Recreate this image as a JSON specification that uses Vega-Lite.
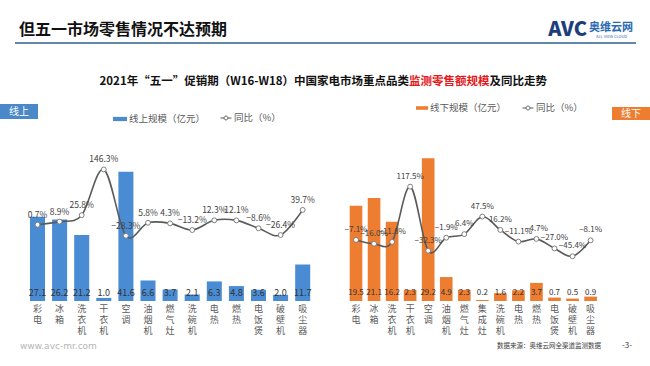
{
  "$schema": "https://vega.github.io/schema/vega-lite/v6.json",
  "width": 650,
  "height": 366,
  "autosize": {"type": "none"},
  "padding": 0,
  "background": "white",
  "config": {"view": {"stroke": null}, "font": "Noto Sans CJK SC", "text": {"font": "Noto Sans CJK SC"}},
  "datasets": {
    "online": [
      {"cat": "彩电", "value": 27.1, "yoy": 0.007},
      {"cat": "冰箱", "value": 26.2, "yoy": 0.089},
      {"cat": "洗衣机", "value": 21.2, "yoy": 0.258},
      {"cat": "干衣机", "value": 1.0, "yoy": 1.463},
      {"cat": "空调", "value": 41.6, "yoy": -0.283},
      {"cat": "油烟机", "value": 6.6, "yoy": 0.058},
      {"cat": "燃气灶", "value": 3.7, "yoy": 0.043},
      {"cat": "洗碗机", "value": 2.1, "yoy": -0.132},
      {"cat": "电热", "value": 6.3, "yoy": 0.123},
      {"cat": "燃热", "value": 4.8, "yoy": 0.121},
      {"cat": "电饭煲", "value": 3.6, "yoy": -0.086},
      {"cat": "破壁机", "value": 2.0, "yoy": -0.264},
      {"cat": "吸尘器", "value": 11.7, "yoy": 0.397}
    ],
    "offline": [
      {"cat": "彩电", "value": 19.5, "yoy": -0.071},
      {"cat": "冰箱", "value": 21.1, "yoy": -0.160},
      {"cat": "洗衣机", "value": 16.2, "yoy": -0.118},
      {"cat": "干衣机", "value": 2.3, "yoy": 1.175},
      {"cat": "空调", "value": 29.2, "yoy": -0.323},
      {"cat": "油烟机", "value": 4.9, "yoy": -0.019},
      {"cat": "燃气灶", "value": 2.3, "yoy": 0.064},
      {"cat": "集成灶", "value": 0.2, "yoy": 0.475},
      {"cat": "洗碗机", "value": 1.6, "yoy": 0.162},
      {"cat": "电热", "value": 2.2, "yoy": -0.111},
      {"cat": "燃热", "value": 3.7, "yoy": -0.047},
      {"cat": "电饭煲", "value": 0.7, "yoy": -0.270},
      {"cat": "破壁机", "value": 0.5, "yoy": -0.454},
      {"cat": "吸尘器", "value": 0.9, "yoy": -0.081}
    ]
  },
  "layer": [
    {
      "data": {"name": "online"},
      "layer": [
        {
          "layer": [
            {
              "mark": {"type": "bar", "color": "#4a8cd4"},
              "encoding": {
                "x": {"field": "cat", "type": "nominal", "sort": null,
                      "scale": {"range": [26.45, 313.75], "paddingInner": 0.32, "paddingOuter": 0.16},
                      "axis": {"orient": "bottom", "offset": -65, "title": null, "domain": false, "ticks": false, "labelAngle": 0,
                               "labelExpr": "split(datum.label, '')", "labelFontSize": 9, "labelColor": "#595959",
                               "labelLineHeight": 11, "labelPadding": 3, "labelBaseline": "top", "labelFont": "Noto Sans CJK SC"}},
                "y": {"field": "value", "type": "quantitative", "scale": {"domain": [0, 51.2], "range": [301, 130]}, "axis": null},
                "color": {"datum": "线上规模（亿元）", "type": "nominal", "scale": {"range": ["#4a8cd4"]},
                          "legend": {"orient": "none", "legendX": 113, "legendY": 112, "title": null, "padding": 0,
                                     "symbolType": "M-1,-0.3H1V0.3H-1Z", "symbolSize": 196, "symbolStrokeWidth": 0,
                                     "labelFontSize": 9.5, "labelColor": "#595959", "labelOffset": 2, "labelFont": "Noto Sans CJK SC"}}
              }
            },
            {
              "mark": {"type": "text", "dy": -8, "fontSize": 9, "color": "#333333"},
              "encoding": {
                "x": {"field": "cat", "type": "nominal", "sort": null},
                "y": {"datum": 0, "type": "quantitative"},
                "text": {"field": "value", "type": "quantitative", "format": ".1f"}
              }
            }
          ]
        },
        {
          "layer": [
            {
              "mark": {"type": "line", "interpolate": "cardinal", "strokeWidth": 1.6},
              "encoding": {
                "x": {"field": "cat", "type": "nominal", "sort": null},
                "y": {"field": "yoy", "type": "quantitative", "scale": {"domain": [-1.95, 2.02], "range": [301, 130]}, "axis": null},
                "stroke": {"datum": "同比（%）", "type": "nominal", "scale": {"range": ["#5a5a5a"]},
                           "legend": {"orient": "none", "legendX": 220, "legendY": 112, "title": null, "padding": 0,
                                      "symbolType": "M-1,0H-0.35M0.35,0H1M0.35,0A0.35,0.35,0,1,1,-0.35,0A0.35,0.35,0,1,1,0.35,0",
                                      "symbolSize": 121, "symbolStrokeColor": "#5a5a5a", "symbolFillColor": "white", "symbolStrokeWidth": 1,
                                      "labelFontSize": 9.5, "labelColor": "#595959", "labelOffset": 2, "labelFont": "Noto Sans CJK SC"}}
              }
            },
            {
              "mark": {"type": "point", "shape": "circle", "filled": true, "fill": "white", "stroke": "#808080", "strokeWidth": 1, "size": 24, "opacity": 1},
              "encoding": {
                "x": {"field": "cat", "type": "nominal", "sort": null},
                "y": {"field": "yoy", "type": "quantitative"}
              }
            },
            {
              "mark": {"type": "text", "dy": -10, "fontSize": 8.5, "color": "#404040"},
              "encoding": {
                "x": {"field": "cat", "type": "nominal", "sort": null},
                "y": {"field": "yoy", "type": "quantitative"},
                "text": {"field": "yoy", "type": "quantitative", "format": ".1%"}
              }
            }
          ]
        }
      ],
      "resolve": {"scale": {"y": "independent"}}
    },
    {
      "data": {"name": "offline"},
      "layer": [
        {
          "layer": [
            {
              "mark": {"type": "bar", "color": "#ed7d31"},
              "encoding": {
                "x": {"field": "cat", "type": "nominal", "sort": null,
                      "scale": {"range": [347.0, 599.6], "paddingInner": 0.3, "paddingOuter": 0.15},
                      "axis": {"orient": "bottom", "offset": -65, "title": null, "domain": false, "ticks": false, "labelAngle": 0,
                               "labelExpr": "split(datum.label, '')", "labelFontSize": 9, "labelColor": "#595959",
                               "labelLineHeight": 11, "labelPadding": 3, "labelBaseline": "top", "labelFont": "Noto Sans CJK SC"}},
                "y": {"field": "value", "type": "quantitative", "scale": {"domain": [0, 30.6], "range": [301, 130]}, "axis": null},
                "color": {"datum": "线下规模（亿元）", "type": "nominal", "scale": {"range": ["#ed7d31"]},
                          "legend": {"orient": "none", "legendX": 416, "legendY": 102, "title": null, "padding": 0,
                                     "symbolType": "M-1,-0.3H1V0.3H-1Z", "symbolSize": 144, "symbolStrokeWidth": 0,
                                     "labelFontSize": 9.5, "labelColor": "#595959", "labelOffset": 2, "labelFont": "Noto Sans CJK SC"}}
              }
            },
            {
              "mark": {"type": "text", "dy": -8, "fontSize": 8, "color": "#333333"},
              "encoding": {
                "x": {"field": "cat", "type": "nominal", "sort": null},
                "y": {"datum": 0, "type": "quantitative"},
                "text": {"field": "value", "type": "quantitative", "format": ".1f"}
              }
            }
          ]
        },
        {
          "layer": [
            {
              "mark": {"type": "line", "interpolate": "cardinal", "strokeWidth": 1.6},
              "encoding": {
                "x": {"field": "cat", "type": "nominal", "sort": null},
                "y": {"field": "yoy", "type": "quantitative", "scale": {"domain": [-1.004, 2.034], "range": [301, 130]}, "axis": null},
                "stroke": {"datum": "同比（%）", "type": "nominal", "scale": {"range": ["#5a5a5a"]},
                           "legend": {"orient": "none", "legendX": 522, "legendY": 102, "title": null, "padding": 0,
                                      "symbolType": "M-1,0H-0.35M0.35,0H1M0.35,0A0.35,0.35,0,1,1,-0.35,0A0.35,0.35,0,1,1,0.35,0",
                                      "symbolSize": 121, "symbolStrokeColor": "#5a5a5a", "symbolFillColor": "white", "symbolStrokeWidth": 1,
                                      "labelFontSize": 9.5, "labelColor": "#595959", "labelOffset": 2, "labelFont": "Noto Sans CJK SC"}}
              }
            },
            {
              "mark": {"type": "point", "shape": "circle", "filled": true, "fill": "white", "stroke": "#808080", "strokeWidth": 1, "size": 24, "opacity": 1},
              "encoding": {
                "x": {"field": "cat", "type": "nominal", "sort": null},
                "y": {"field": "yoy", "type": "quantitative"}
              }
            },
            {
              "mark": {"type": "text", "dy": -10, "fontSize": 8, "color": "#404040"},
              "encoding": {
                "x": {"field": "cat", "type": "nominal", "sort": null},
                "y": {"field": "yoy", "type": "quantitative"},
                "text": {"field": "yoy", "type": "quantitative", "format": ".1%"}
              }
            }
          ]
        }
      ],
      "resolve": {"scale": {"y": "independent"}}
    },
    {
      "data": {"values": [{}]},
      "mark": {"type": "text", "text": "但五一市场零售情况不达预期", "align": "left", "baseline": "middle", "fontSize": 16, "fontWeight": "bold", "color": "#111111"},
      "encoding": {"x": {"value": 19}, "y": {"value": 30}}
    },
    {
      "data": {"values": [{}]},
      "mark": {"type": "rule", "color": "#2e5f8a", "strokeWidth": 1.5},
      "encoding": {"x": {"value": 15}, "x2": {"value": 636}, "y": {"value": 43}}
    },
    {
      "data": {"values": [{}]},
      "mark": {"type": "text", "text": "AVC", "align": "right", "baseline": "middle", "fontSize": 20, "fontWeight": 900, "color": "#1c3f7c"},
      "encoding": {"x": {"value": 587}, "y": {"value": 30}}
    },
    {
      "data": {"values": [{}]},
      "mark": {"type": "text", "text": "奥维云网", "align": "left", "baseline": "middle", "fontSize": 11, "fontWeight": "bold", "color": "#2a6ab3"},
      "encoding": {"x": {"value": 589}, "y": {"value": 28}}
    },
    {
      "data": {"values": [{}]},
      "mark": {"type": "text", "text": "ALL VIEW CLOUD", "align": "left", "baseline": "middle", "fontSize": 4, "color": "#2a6ab3"},
      "encoding": {"x": {"value": 596}, "y": {"value": 37}}
    },
    {
      "data": {"values": [{}]},
      "mark": {"type": "text", "text": "2021年“五一”促销期（W16-W18）中国家电市场重点品类", "align": "right", "baseline": "middle", "fontSize": 11.5, "fontWeight": "bold", "color": "#111111"},
      "encoding": {"x": {"value": 409}, "y": {"value": 82}}
    },
    {
      "data": {"values": [{}]},
      "mark": {"type": "text", "text": "监测零售额规模", "align": "left", "baseline": "middle", "fontSize": 11.5, "fontWeight": "bold", "color": "#e3191c"},
      "encoding": {"x": {"value": 409}, "y": {"value": 82}}
    },
    {
      "data": {"values": [{}]},
      "mark": {"type": "text", "text": "及同比走势", "align": "left", "baseline": "middle", "fontSize": 11.5, "fontWeight": "bold", "color": "#111111"},
      "encoding": {"x": {"value": 489.5}, "y": {"value": 82}}
    },
    {
      "data": {"values": [{}]},
      "mark": {"type": "rect", "color": "#4a88c9"},
      "encoding": {"x": {"value": 0}, "x2": {"value": 38}, "y": {"value": 104}, "y2": {"value": 119}}
    },
    {
      "data": {"values": [{}]},
      "mark": {"type": "text", "text": "线上", "align": "center", "baseline": "middle", "fontSize": 10, "color": "white"},
      "encoding": {"x": {"value": 19}, "y": {"value": 111.5}}
    },
    {
      "data": {"values": [{}]},
      "mark": {"type": "rect", "color": "#ed7d31"},
      "encoding": {"x": {"value": 612}, "x2": {"value": 650}, "y": {"value": 107}, "y2": {"value": 120}}
    },
    {
      "data": {"values": [{}]},
      "mark": {"type": "text", "text": "线下", "align": "center", "baseline": "middle", "fontSize": 10, "color": "white"},
      "encoding": {"x": {"value": 631}, "y": {"value": 113.5}}
    },
    {
      "data": {"values": [{}]},
      "mark": {"type": "text", "text": "www.avc-mr.com", "align": "left", "baseline": "middle", "fontSize": 9, "color": "#b5b5b5", "font": "DejaVu Sans"},
      "encoding": {"x": {"value": 20}, "y": {"value": 346}}
    },
    {
      "data": {"values": [{}]},
      "mark": {"type": "text", "text": "数据来源：奥维云网全渠道监测数据", "align": "left", "baseline": "middle", "fontSize": 6.5, "color": "#404040"},
      "encoding": {"x": {"value": 497}, "y": {"value": 346}}
    },
    {
      "data": {"values": [{}]},
      "mark": {"type": "text", "text": "-3-", "align": "left", "baseline": "middle", "fontSize": 8, "color": "#404040"},
      "encoding": {"x": {"value": 622}, "y": {"value": 346}}
    }
  ],
  "resolve": {"scale": {"x": "independent", "y": "independent", "color": "independent", "stroke": "independent"}, "legend": {"color": "independent", "stroke": "independent"}}
}
